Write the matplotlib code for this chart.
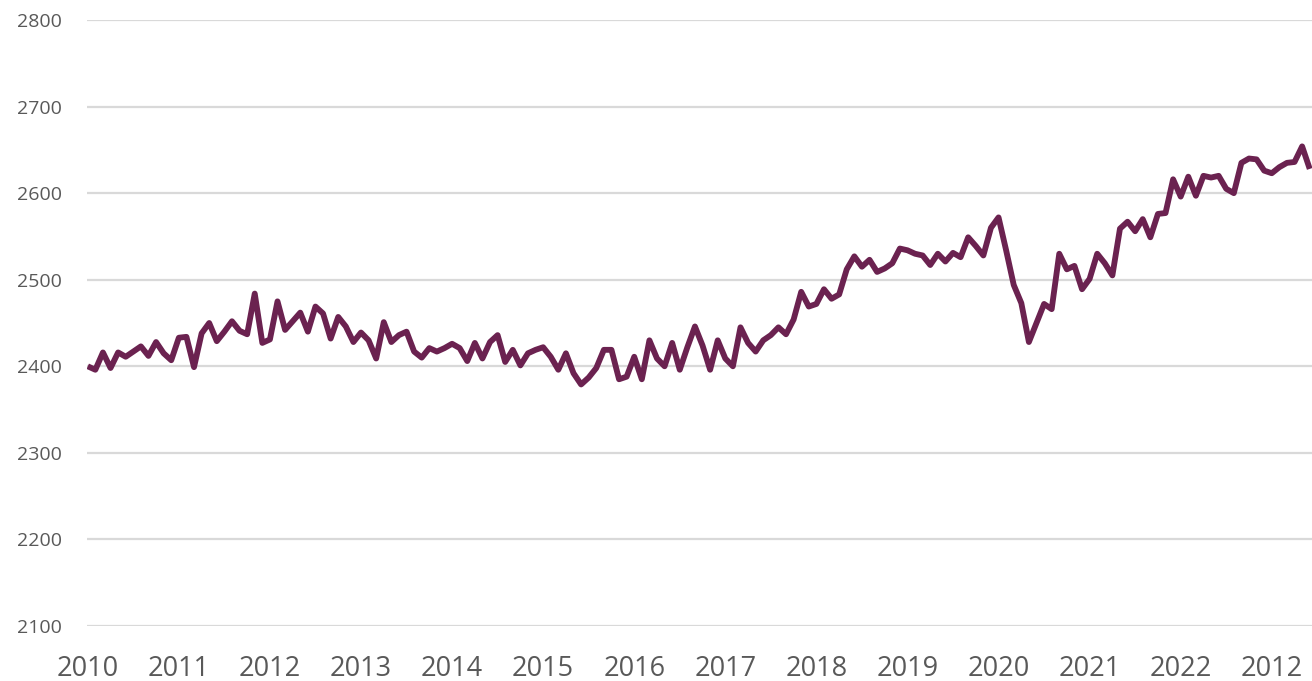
import matplotlib.pyplot as plt

# monthly values, Jan 2010 onwards
values = [
    2400, 2396, 2416, 2398, 2416, 2411, 2417, 2423, 2412, 2428, 2415, 2407,
    2433, 2434, 2399, 2438, 2450, 2429, 2440, 2452, 2441, 2437, 2484, 2427,
    2431, 2475, 2442, 2452, 2462, 2440, 2469, 2461, 2432, 2457, 2446, 2428,
    2439, 2430, 2409, 2451, 2428, 2436, 2440, 2417, 2410, 2421, 2417, 2421,
    2426, 2421, 2406, 2427, 2409, 2428, 2436, 2405, 2419, 2401, 2415, 2419,
    2422, 2411, 2396, 2415, 2392, 2379, 2387, 2398, 2419, 2419, 2385, 2388,
    2411, 2385, 2430, 2409, 2400, 2427, 2396, 2422, 2446, 2424, 2396, 2430,
    2409, 2400, 2445, 2427, 2417, 2430, 2436, 2445, 2437, 2454, 2486, 2469,
    2472, 2489, 2478, 2483, 2512, 2527, 2515, 2523, 2509, 2513, 2519, 2536,
    2534, 2530, 2528, 2517, 2530, 2521, 2531, 2526, 2549, 2539, 2528, 2560,
    2572, 2534, 2494, 2473, 2428, 2450, 2472, 2466, 2530, 2512, 2516, 2489,
    2501, 2530, 2519, 2505, 2559, 2567, 2556, 2570, 2549, 2576, 2577, 2616,
    2596, 2619, 2597, 2620, 2618, 2620, 2605, 2600, 2635, 2640, 2639, 2626,
    2623, 2630, 2635, 2636, 2654, 2628,
]
year_labels = ["2010", "2011", "2012", "2013", "2014", "2015", "2016",
               "2017", "2018", "2019", "2020", "2021", "2022", "2012"]
y_ticks = [2100, 2200, 2300, 2400, 2500, 2600, 2700, 2800]

plt.rcParams['font.family'] = ['Open Sans', 'DejaVu Sans']

fig = plt.figure(figsize=(13.12, 6.81), dpi=100)
ax = fig.add_axes([87 / 1312, 55 / 681, 1225 / 1312, 606 / 681])

ax.plot(range(len(values)), values, color="#6B2250", lw=4.2,
        solid_joinstyle="round", solid_capstyle="butt")

ax.set_ylim(2100, 2800)
ax.set_xlim(-0.1, 161.3)
ax.set_yticks(y_ticks)
ax.set_xticks([12 * i for i in range(len(year_labels))])
ax.set_xticklabels(year_labels)

ax.grid(axis="y", color="#d9d9d9", lw=1.6)
ax.set_axisbelow(True)
for s in ax.spines.values():
    s.set_visible(False)

ax.tick_params(axis="y", length=0, pad=18, labelsize=14, labelcolor="#595959")
ax.tick_params(axis="x", length=0, pad=21, labelsize=19.5, labelcolor="#595959")

fig.savefig("out.png", dpi=100)
